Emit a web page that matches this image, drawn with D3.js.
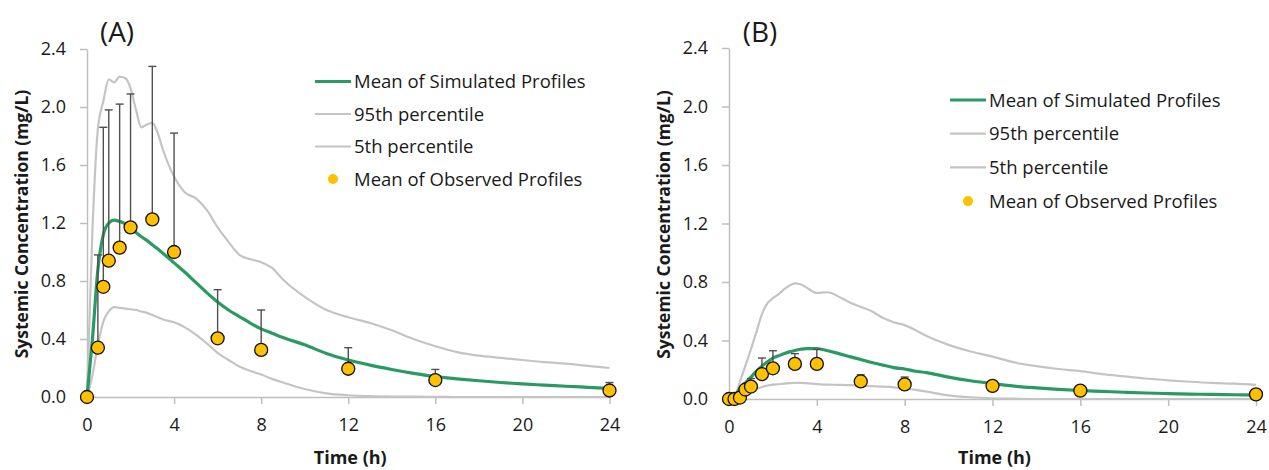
<!DOCTYPE html>
<html>
<head>
<meta charset="utf-8">
<script src="https://cdn.jsdelivr.net/npm/d3@7"></script>
<style>
  html, body { margin: 0; padding: 0; background: #fff; }
  svg { display: block; }
  text { font-family: "Open Sans", "Liberation Sans", sans-serif; fill: #1a1a1a; }
</style>
</head>
<body>
<svg id="chart" width="1269" height="470"></svg>
<script>
// ---- Axis ticks ----
const timeTicks = [0, 4, 8, 12, 16, 20, 24];
const concTicks = [0, 0.4, 0.8, 1.2, 1.6, 2.0, 2.4];

// ---- Simulation time grid (h), shared by both panels ----
const simTime = [0, 0.25, 0.5, 0.75, 1, 1.25, 1.5, 1.75, 2, 2.25, 2.5, 2.75, 3, 3.25, 3.5,
  4, 4.5, 5, 5.5, 6, 6.5, 7, 7.5, 8, 8.5, 9, 10, 11, 12, 13, 14, 15, 16, 17, 18, 19, 20, 21, 22, 23, 24];

// ---- Panel A: simulated profiles (mg/L) ----
const meanSimA = [0, 0.40, 0.88, 1.12, 1.20, 1.22, 1.21, 1.195, 1.165, 1.135, 1.105, 1.08, 1.05, 1.02, 0.99,
  0.925, 0.86, 0.79, 0.72, 0.655, 0.60, 0.555, 0.51, 0.47, 0.44, 0.41, 0.36, 0.30, 0.255, 0.22, 0.19,
  0.163, 0.14, 0.125, 0.112, 0.10, 0.09, 0.082, 0.074, 0.067, 0.06];
const p95A = [0, 1.15, 1.85, 2.04, 2.19, 2.17, 2.21, 2.20, 2.13, 1.98, 1.86, 1.88, 1.89, 1.82, 1.70,
  1.52, 1.41, 1.37, 1.29, 1.17, 1.07, 0.98, 0.95, 0.93, 0.89, 0.81, 0.69, 0.60, 0.55, 0.51, 0.46,
  0.40, 0.35, 0.31, 0.285, 0.27, 0.255, 0.24, 0.23, 0.215, 0.20];
const p5A = [0, 0.15, 0.36, 0.52, 0.59, 0.62, 0.615, 0.61, 0.605, 0.60, 0.59, 0.58, 0.565, 0.55, 0.535,
  0.515, 0.48, 0.43, 0.37, 0.305, 0.255, 0.21, 0.18, 0.155, 0.125, 0.10, 0.055, 0.025, 0.012, 0.006, 0.003,
  0.002, 0.001, 0, 0, 0, 0, 0, 0, 0, 0];

// ---- Panel A: observed means and upper error limits (mg/L) ----
const obsTimeA = [0, 0.5, 0.75, 1, 1.5, 2, 3, 4, 6, 8, 12, 16, 24];
const obsMeanA = [0, 0.34, 0.76, 0.94, 1.03, 1.17, 1.225, 1.0, 0.405, 0.325, 0.195, 0.117, 0.045];
const obsUpperA = [0, 0.98, 1.86, 1.98, 2.02, 2.09, 2.28, 1.82, 0.74, 0.60, 0.34, 0.19, 0.10];

// ---- Panel B: simulated profiles (mg/L) ----
const meanSimB = [0, 0.02, 0.07, 0.11, 0.15, 0.19, 0.225, 0.255, 0.28, 0.295, 0.31, 0.322, 0.332, 0.34, 0.345,
  0.345, 0.33, 0.31, 0.29, 0.27, 0.25, 0.232, 0.215, 0.205, 0.19, 0.18, 0.15, 0.125, 0.105, 0.088, 0.076,
  0.066, 0.058, 0.052, 0.046, 0.041, 0.037, 0.034, 0.031, 0.029, 0.027];
const p95B = [0, 0.02, 0.12, 0.23, 0.34, 0.46, 0.58, 0.655, 0.69, 0.715, 0.75, 0.775, 0.79, 0.785, 0.765,
  0.725, 0.73, 0.70, 0.66, 0.63, 0.60, 0.555, 0.525, 0.505, 0.47, 0.43, 0.37, 0.325, 0.29, 0.25, 0.225,
  0.205, 0.19, 0.17, 0.155, 0.14, 0.128, 0.118, 0.11, 0.105, 0.097];
const p5B = [0, 0.005, 0.025, 0.04, 0.053, 0.068, 0.082, 0.092, 0.098, 0.101, 0.105, 0.108, 0.11, 0.11, 0.108,
  0.102, 0.098, 0.097, 0.095, 0.092, 0.088, 0.085, 0.08, 0.07, 0.062, 0.05, 0.025, 0.012, 0.005, 0.002, 0,
  0, 0, 0, 0, 0, 0, 0, 0, 0, 0];

// ---- Panel B: observed means and upper error limits (mg/L) ----
const obsTimeB = [0, 0.25, 0.5, 0.75, 1, 1.5, 2, 3, 4, 6, 8, 12, 16, 24];
const obsMeanB = [0, 0, 0.01, 0.065, 0.085, 0.17, 0.21, 0.24, 0.24, 0.12, 0.10, 0.09, 0.057, 0.032];
const obsUpperB = [0, 0, 0.02, 0.09, 0.14, 0.28, 0.33, 0.31, 0.34, 0.165, 0.15, 0.10, 0.065, 0.04];

// ---- Legend entries ----
const legendLabels = ["Mean of Simulated Profiles", "95th percentile", "5th percentile", "Mean of Observed Profiles"];

const GREEN = "#2a9a64", GREY = "#c4c4c4", GOLD = "#ffc000", AXIS = "#bfbfbf", BAR = "#505050";

const svg = d3.select("#chart");

const panels = [
  { label: "(A)", labelX: 117, x0: 87, x1: 609.5, y0: 397, y1: 49,
    mean: meanSimA, p95: p95A, p5: p5A, obsT: obsTimeA, obsM: obsMeanA, obsU: obsUpperA,
    legX: 315, legY: 81.5, legGap: 32.5 },
  { label: "(B)", labelX: 760, x0: 729, x1: 1256, y0: 399, y1: 48,
    mean: meanSimB, p95: p95B, p5: p5B, obsT: obsTimeB, obsM: obsMeanB, obsU: obsUpperB,
    legX: 950, legY: 100, legGap: 33.7 }
];

panels.forEach(p => {
  const x = d3.scaleLinear().domain([0, 24]).range([p.x0, p.x1]);
  const y = d3.scaleLinear().domain([0, 2.4]).range([p.y0, p.y1]);
  const g = svg.append("g");

  // Axes
  const xAxis = g.append("g").attr("transform", `translate(0,${p.y0})`)
    .call(d3.axisBottom(x).tickValues(timeTicks).tickFormat(d3.format("d")).tickSizeInner(7).tickSizeOuter(0).tickPadding(14));
  const yAxis = g.append("g").attr("transform", `translate(${p.x0},0)`)
    .call(d3.axisLeft(y).tickValues(concTicks).tickFormat(d3.format(".1f")).tickSizeInner(7).tickSizeOuter(0).tickPadding(14));
  [xAxis, yAxis].forEach(a => {
    a.select(".domain").attr("stroke", AXIS).attr("stroke-width", 1.5);
    a.selectAll(".tick line").attr("stroke", AXIS).attr("stroke-width", 1.5);
    a.selectAll(".tick text").attr("font-size", 18).attr("fill", "#1a1a1a")
      .style("font-family", "'Open Sans', sans-serif");
  });

  // Axis titles
  g.append("text").attr("x", (p.x0 + p.x1) / 2 + 2).attr("y", 464)
    .attr("text-anchor", "middle").attr("font-size", 18).attr("font-weight", "bold").text("Time (h)");
  g.append("text").attr("transform", `translate(${p.x0 - 59},${(p.y0 + p.y1) / 2 + 1}) rotate(-90)`)
    .attr("text-anchor", "middle").attr("font-size", 17.5).attr("font-weight", "bold")
    .text("Systemic Concentration (mg/L)");

  // Panel label
  g.append("text").attr("x", p.labelX).attr("y", 42).attr("text-anchor", "middle")
    .attr("font-size", 28).text(p.label);

  // Simulated profiles
  const line = d3.line().x((d, i) => x(simTime[i])).y(d => y(d)).curve(d3.curveMonotoneX);
  g.append("path").datum(p.p5).attr("d", line)
    .attr("fill", "none").attr("stroke", GREY).attr("stroke-width", 2.2);
  g.append("path").datum(p.p95).attr("d", line)
    .attr("fill", "none").attr("stroke", GREY).attr("stroke-width", 2.2);
  g.append("path").datum(p.mean).attr("d", line)
    .attr("fill", "none").attr("stroke", GREEN).attr("stroke-width", 3.2);

  // Observed: upper error bars then markers
  const obs = p.obsT.map((t, i) => ({ t, m: p.obsM[i], u: p.obsU[i] }));
  const bars = g.append("g").attr("stroke", BAR).attr("stroke-width", 1.4);
  bars.selectAll("line.v").data(obs.filter(d => d.u > d.m)).join("line").attr("class", "v")
    .attr("x1", d => x(d.t)).attr("x2", d => x(d.t)).attr("y1", d => y(d.m)).attr("y2", d => y(d.u));
  bars.selectAll("line.c").data(obs.filter(d => d.u > d.m)).join("line").attr("class", "c")
    .attr("x1", d => x(d.t) - 4).attr("x2", d => x(d.t) + 4).attr("y1", d => y(d.u)).attr("y2", d => y(d.u));
  g.selectAll("circle.obs").data(obs).join("circle").attr("class", "obs")
    .attr("cx", d => x(d.t)).attr("cy", d => y(d.m)).attr("r", 6.5)
    .attr("fill", GOLD).attr("stroke", "#111").attr("stroke-width", 1.3);

  // Legend
  const leg = g.append("g");
  const styles = [
    { stroke: GREEN, w: 3.2 }, { stroke: GREY, w: 2.2 }, { stroke: GREY, w: 2.2 }, { dot: true }
  ];
  legendLabels.forEach((lab, i) => {
    const ly = p.legY + i * p.legGap;
    const s = styles[i];
    if (s.dot) {
      leg.append("circle").attr("cx", p.legX + 18).attr("cy", ly).attr("r", 5).attr("fill", GOLD);
    } else {
      leg.append("line").attr("x1", p.legX).attr("x2", p.legX + 36).attr("y1", ly).attr("y2", ly)
        .attr("stroke", s.stroke).attr("stroke-width", s.w);
    }
    leg.append("text").attr("x", p.legX + 39).attr("y", ly).attr("dy", "0.36em")
      .attr("font-size", 18.5).text(lab);
  });
});
</script>
</body>
</html>
